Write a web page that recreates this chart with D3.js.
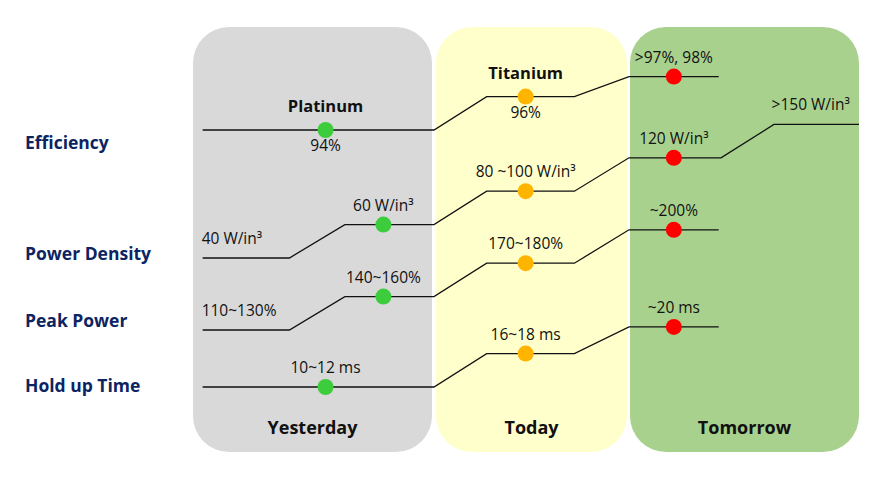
<!DOCTYPE html>
<html>
<head>
<meta charset="utf-8">
<script src="https://cdn.jsdelivr.net/npm/d3@7"></script>
<style>
  body { margin: 0; background: #fff; }
  text { font-family: "Open Sans", sans-serif; }
</style>
</head>
<body>
<div id="chart"></div>
<script>
// ---- data ----
var stages = ["Yesterday", "Today", "Tomorrow"];
var metrics = ["Efficiency", "Power Density", "Peak Power", "Hold up Time"];

var efficiencyLabels = ["94%", "96%", ">97%, 98%"];
var efficiencyStage = [0, 1, 2];
var efficiencyLevel = [0, 1, 1.6];
var efficiencyDot = [true, true, true];
var efficiencyClass = ["Platinum", "Titanium", null];

var densityLabels = ["40 W/in³", "60 W/in³", "80 ~100 W/in³", "120 W/in³", ">150 W/in³"];
var densityStage = [0, 0, 1, 2, 2];
var densityLevel = [0, 1, 2, 3, 4];
var densityDot = [false, true, true, true, false];

var peakLabels = ["110~130%", "140~160%", "170~180%", "~200%"];
var peakStage = [0, 0, 1, 2];
var peakLevel = [0, 1, 2, 3];
var peakDot = [false, true, true, true];

var holdupLabels = ["10~12 ms", "16~18 ms", "~20 ms"];
var holdupStage = [0, 1, 2];
var holdupLevel = [0, 1, 1.8];
var holdupDot = [true, true, true];

// ---- layout ----
var svgWidth = 873;
var svgHeight = 491;
var panelTop = 27, panelBottom = 452;
var panelColors = ["#d9d9d9", "#ffffcc", "#a9d18e"];
var dotColors = ["#3ccc3c", "#ffb400", "#ff0000"];
var rowBase = [130, 258, 330, 387];
var rowLabelY = [149, 260, 327, 392];
var levelStep = 33.4;

var rows = [
  {labels: efficiencyLabels, stage: efficiencyStage, level: efficiencyLevel, dot: efficiencyDot, cls: efficiencyClass},
  {labels: densityLabels, stage: densityStage, level: densityLevel, dot: densityDot},
  {labels: peakLabels, stage: peakStage, level: peakLevel, dot: peakDot},
  {labels: holdupLabels, stage: holdupStage, level: holdupLevel, dot: holdupDot}
];

var x = d3.scaleLinear().domain([0, 1, 2, 3]).range([193, 434, 629, 859]);

var svg = d3.select("#chart")
            .append("svg")
            .attr("width", svgWidth)
            .attr("height", svgHeight);

// stage panels
var inset = [[0, 2], [2, 2], [1, 0]];
svg.selectAll("rect.panel")
   .data(stages)
   .enter()
   .append("rect")
   .attr("class", "panel")
   .attr("x", (d, i) => x(i) + inset[i][0])
   .attr("y", panelTop)
   .attr("width", (d, i) => x(i + 1) - x(i) - inset[i][0] - inset[i][1])
   .attr("height", panelBottom - panelTop)
   .attr("rx", 36)
   .attr("fill", (d, i) => panelColors[i]);

svg.selectAll("text.stage")
   .data(stages)
   .enter()
   .append("text")
   .attr("class", "stage")
   .attr("x", (d, i) => (x(i) + inset[i][0] + x(i + 1) - inset[i][1]) / 2)
   .attr("y", 434)
   .attr("text-anchor", "middle")
   .attr("font-size", 18)
   .attr("font-weight", "bold")
   .attr("fill", "#111")
   .text(d => d);

// metric names
svg.selectAll("text.metric")
   .data(metrics)
   .enter()
   .append("text")
   .attr("class", "metric")
   .attr("x", 25)
   .attr("y", (d, i) => rowLabelY[i])
   .attr("font-size", 17.5)
   .attr("font-weight", "bold")
   .attr("fill", "#0c2461")
   .text(d => d);

function plateau(stage, k, n) {
  if (n === 2) return k === 0 ? [stage === 0 ? 0.04 : 0, 0.40] : [0.63, 1];
  return [[0.04, 1], [0.27, 0.72], [0, 0.39]][stage];
}
function markFrac(stage, k, n) {
  if (n === 2) return k === 0 ? 0.195 : 0.79;
  return [0.55, 0.47, 0.195][stage];
}

var line = d3.line().x(d => d[0]).y(d => d[1]);

rows.forEach(function(row, r) {
  var y = d3.scaleLinear().domain([0, 1]).range([rowBase[r], rowBase[r] - levelStep]);
  var steps = row.labels.map(function(label, i) {
    var s = row.stage[i];
    var inStage = row.stage.filter(v => v === s).length;
    var k = row.stage.slice(0, i).filter(v => v === s).length;
    var p = plateau(s, k, inStage);
    return {
      label: label,
      stage: s,
      x0: x(s + p[0]),
      x1: x(s + p[1]),
      xm: x(s + markFrac(s, k, inStage)),
      y: y(row.level[i]),
      dot: row.dot[i],
      cls: row.cls ? row.cls[i] : null,
      lead: !row.dot[i] && k === 0
    };
  });

  var pts = [];
  steps.forEach(function(d) { pts.push([d.x0, d.y], [d.x1, d.y]); });

  var g = svg.append("g");
  g.append("path")
   .attr("d", line(pts))
   .attr("fill", "none")
   .attr("stroke", "#111")
   .attr("stroke-width", 1.3);

  g.selectAll("circle")
   .data(steps.filter(d => d.dot))
   .enter()
   .append("circle")
   .attr("cx", d => d.xm)
   .attr("cy", d => d.y)
   .attr("r", 8)
   .attr("fill", d => dotColors[d.stage]);

  g.selectAll("text.value")
   .data(steps)
   .enter()
   .append("text")
   .attr("class", "value")
   .attr("x", d => d.lead ? d.x0 - 1 : d.xm)
   .attr("y", d => d.cls ? d.y + 21 : d.y - 14)
   .attr("text-anchor", d => d.lead ? "start" : "middle")
   .attr("font-size", 15.5)
   .attr("fill", "#111")
   .text(d => d.label);

  g.selectAll("text.cls")
   .data(steps.filter(d => d.cls))
   .enter()
   .append("text")
   .attr("class", "cls")
   .attr("x", d => d.xm)
   .attr("y", d => d.y - 18)
   .attr("text-anchor", "middle")
   .attr("font-size", 16.5)
   .attr("font-weight", "bold")
   .attr("fill", "#111")
   .text(d => d.cls);
});
</script>
</body>
</html>
